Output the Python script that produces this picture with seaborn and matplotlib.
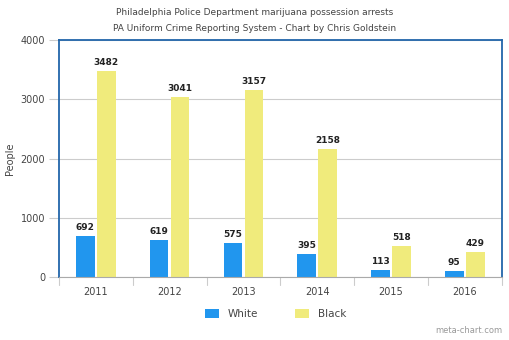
import matplotlib
matplotlib.use("Agg")
import matplotlib.pyplot as plt
import seaborn as sns
import pandas as pd
from matplotlib.patches import Patch

years = ["2011", "2012", "2013", "2014", "2015", "2016"]
white = [692, 619, 575, 395, 113, 95]
black = [3482, 3041, 3157, 2158, 518, 429]
series = ["White", "Black"]
colors = {"White": "#2196ee", "Black": "#f0eb7c"}

df = pd.DataFrame({
    "Year": years * 2,
    "People": white + black,
    "Race": ["White"] * len(years) + ["Black"] * len(years),
})

sns.set_theme(style="white")
plt.rcParams["font.family"] = ["DejaVu Sans"]

fig = plt.figure(figsize=(5.1, 3.4), dpi=100)
ax = fig.add_axes([0.1157, 0.185, 0.868, 0.697])

sns.barplot(data=df, x="Year", y="People", hue="Race", palette=colors,
            hue_order=series, width=0.57, gap=0.12, ax=ax, legend=False,
            saturation=1, edgecolor="none")

ax.set_ylim(0, 4000)
ax.set_xlim(-0.5, len(years) - 0.5)
ax.set_yticks([0, 1000, 2000, 3000, 4000])
ax.yaxis.grid(True, color="#cccccc", linewidth=0.8)
ax.set_axisbelow(True)
ax.tick_params(axis="y", length=7, width=0.8, color="#cccccc", labelsize=7,
               labelcolor="#444444", pad=3, left=True)
ax.tick_params(axis="x", length=0, labelsize=7, labelcolor="#444444", pad=7)
ax.set_xlabel("")
ax.set_ylabel("People", fontsize=7, color="#444444")
ax.yaxis.set_label_coords(-0.099, 0.5)

for s in ["left", "top", "right"]:
    ax.spines[s].set_visible(True)
    ax.spines[s].set_color("#2266aa")
    ax.spines[s].set_linewidth(1.3)
ax.spines["bottom"].set_color("#aaaaaa")
ax.spines["bottom"].set_linewidth(0.8)

# x boundary ticks
for i in range(len(years) + 1):
    ax.plot([i - 0.5, i - 0.5], [0, -0.035], transform=ax.get_xaxis_transform(),
            color="#cccccc", linewidth=0.8, clip_on=False)

for cont in ax.containers:
    ax.bar_label(cont, fmt="%d", padding=3, fontsize=6.5, fontweight="bold",
                 color="#222222")

fig.text(0.5, 0.962, "Philadelphia Police Department marijuana possession arrests",
         ha="center", va="center", fontsize=6.5, color="#444444")
fig.text(0.5, 0.915, "PA Uniform Crime Reporting System - Chart by Chris Goldstein",
         ha="center", va="center", fontsize=6.5, color="#444444")

handles = [Patch(facecolor=colors[s], edgecolor="none", label=s) for s in series]
fig.legend(handles=handles, loc="center", bbox_to_anchor=(0.54, 0.077), ncol=2,
           frameon=False, fontsize=7.5, handlelength=1.4, handleheight=1.0,
           columnspacing=3.5, handletextpad=0.8, labelcolor="#444444")

fig.text(0.985, 0.015, "meta-chart.com", ha="right", va="bottom", fontsize=6,
         color="#999999")

fig.savefig("out.png", dpi=100)
